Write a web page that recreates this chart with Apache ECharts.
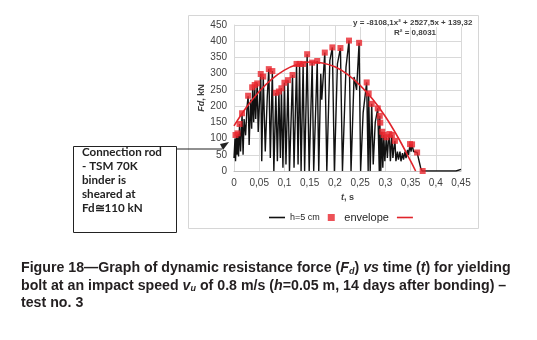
<!DOCTYPE html>
<html>
<head>
<meta charset="utf-8">
<script src="https://cdn.jsdelivr.net/npm/echarts@6/dist/echarts.min.js"></script>
<style>
  html,body{margin:0;padding:0;background:#fff;}
  #chart{width:537px;height:340px;}
</style>
</head>
<body>
<div id="chart"></div>
<script>
// measured signal h=5 cm : [t (s), Fd (kN)]
const hSignal = [
  [0,40],[0.002,100],[0.003,30],[0.005,110],[0.006,50],[0.008,115],[0.009,45],[0.011,145],
  [0.013,60],[0.016,175],[0.018,50],[0.02,160],[0.023,110],[0.026,200],[0.028,230],[0.03,80],
  [0.033,220],[0.035,130],[0.037,255],[0.039,150],[0.041,265],[0.043,160],[0.046,270],[0.048,120],
  [0.053,300],[0.055,30],[0.058,290],[0.062,60],[0.066,230],[0.069,315],[0.072,40],[0.076,308],
  [0.079,0],[0.083,240],[0.086,30],[0.089,245],[0.092,40],[0.094,255],[0.097,10],[0.1,272],
  [0.103,20],[0.107,280],[0.11,0],[0.116,296],[0.119,10],[0.124,330],[0.127,20],[0.13,330],
  [0.133,0],[0.137,330],[0.14,0],[0.145,360],[0.149,0],[0.155,334],[0.158,0],[0.165,339],
  [0.168,0],[0.172,300],[0.174,220],[0.18,365],[0.184,0],[0.19,340],[0.195,381],[0.199,0],
  [0.205,330],[0.211,379],[0.215,0],[0.222,320],[0.228,402],[0.232,0],[0.238,290],[0.243,250],
  [0.248,395],[0.251,0],[0.256,180],[0.263,273],[0.266,0],[0.267,239],[0.27,0],[0.273,207],
  [0.276,20],[0.28,150],[0.285,193],[0.288,0],[0.289,170],[0.291,0],[0.293,121],[0.295,10],
  [0.297,111],[0.299,30],[0.302,104],[0.304,40],[0.306,90],[0.308,114],[0.31,30],[0.313,111],
  [0.315,40],[0.317,70],[0.319,93],[0.321,30],[0.324,60],[0.326,35],[0.329,60],[0.331,30],
  [0.334,55],[0.336,35],[0.339,60],[0.341,40],[0.344,65],[0.346,50],[0.349,83],[0.351,60],
  [0.353,82],[0.356,60],[0.363,57],[0.37,10],[0.373,0],[0.4,0],[0.44,0],[0.45,5]
];

// envelope points (peaks)
const envT = [0.003,0.007,0.011,0.016,0.028,0.036,0.041,0.046,0.053,0.058,0.069,0.076,0.083,0.089,0.094,
  0.1,0.107,0.116,0.124,0.13,0.137,0.145,0.155,0.165,0.18,0.195,0.211,0.228,0.248,0.263,0.267,0.273,
  0.285,0.289,0.29,0.294,0.297,0.302,0.308,0.313,0.319,0.349,0.353,0.363,0.374];
const envF = [111,116,145,178,232,258,265,270,299,291,314,308,241,245,255,
  272,280,296,330,330,330,360,334,339,365,381,379,402,395,273,239,207,
  193,170,149,121,111,104,114,111,93,83,82,57,0];

// polynomial trendline
const trendT = [0,0.025,0.05,0.075,0.1,0.125,0.15,0.175,0.2,0.225,0.25,0.275,0.3,0.325,0.35,0.36];
const trendF = [139,197,245,283,311,328,336,333,321,298,264,221,168,104,31,0];

const xMin = 0, xMax = 0.45, xStep = 0.05;
const yMin = 0, yMax = 450, yStep = 50;

const narrow = "'Liberation Sans Narrow','Liberation Sans',Arial,sans-serif";
const sans = "'Liberation Sans',Arial,sans-serif";

let chart = echarts.init(document.getElementById('chart'), null, {renderer:'canvas'});

let option = {
  backgroundColor:'#fff',
  animation:false,
  grid:{left:234, right:76, top:25, bottom:169},
  xAxis:{
    type:'value', min:xMin, max:xMax, interval:xStep,
    name:'{i|t}{n|, s}', nameLocation:'middle', nameGap:22,
    nameTextStyle:{rich:{
      i:{fontFamily:sans, fontStyle:'italic', fontWeight:'bold', fontSize:9, color:'#404040'},
      n:{fontFamily:sans, fontWeight:'bold', fontSize:9, color:'#404040'}
    }},
    axisLine:{lineStyle:{color:'#bfbfbf'}},
    axisTick:{show:false},
    splitLine:{lineStyle:{color:'#d9d9d9'}},
    axisLabel:{fontFamily:narrow, fontSize:10, color:'#404040', margin:7,
      formatter:(v)=>String(+v.toFixed(2)).replace('.',',')}
  },
  yAxis:{
    type:'value', min:yMin, max:yMax, interval:yStep,
    name:'{i|Fd}{n|, kN}', nameLocation:'middle', nameGap:24, nameRotate:90,
    nameTextStyle:{rich:{
      i:{fontFamily:sans, fontStyle:'italic', fontWeight:'bold', fontSize:9, color:'#404040'},
      n:{fontFamily:sans, fontWeight:'bold', fontSize:9, color:'#404040'}
    }},
    axisLine:{show:true, lineStyle:{color:'#d9d9d9'}},
    axisTick:{show:false},
    splitLine:{lineStyle:{color:'#d9d9d9'}},
    axisLabel:{fontFamily:narrow, fontSize:10, color:'#404040', margin:7}
  },
  legend:{
    left:264, top:207, itemWidth:16, itemHeight:7, itemGap:8,
    data:[
      {name:'h=5 cm', icon:'path://M0,0h30v3h-30z'},
      {name:'envelope', icon:'path://M0,0h10v10h-10z'},
      {name:'trend', icon:'path://M0,0h30v3h-30z'}
    ],
    formatter:(name)=>{
      if(name==='trend') return '';
      return name==='envelope' ? '{b|envelope}' : '{s|h=5 cm}';
    },
    textStyle:{rich:{
      s:{fontFamily:sans, fontSize:9, color:'#262626'},
      b:{fontFamily:sans, fontSize:11, color:'#262626'}
    }}
  },
  series:[
    {
      name:'h=5 cm', type:'line', showSymbol:false, symbol:'none',
      data:hSignal,
      lineStyle:{color:'#111', width:1.4},
      itemStyle:{color:'#111'},
      z:2
    },
    {
      name:'trend', type:'line', smooth:0.4, showSymbol:false, symbol:'none',
      data:trendT.map((t,i)=>[t,trendF[i]]),
      lineStyle:{color:'#e0242b', width:1.6},
      itemStyle:{color:'#e0242b'},
      z:3
    },
    {
      name:'envelope', type:'scatter', symbol:'rect', symbolSize:6,
      data:envT.map((t,i)=>[t,envF[i]]),
      itemStyle:{color:'#e8262d'},
      z:4
    }
  ],
  graphic:[
    // chart frame
    {type:'rect', shape:{x:188.5, y:15.5, width:290, height:213}, style:{fill:null, stroke:'#d6d6d6', lineWidth:1}, z:-1},
    // trendline equation
    {type:'text', left:352, top:19, z:10, style:{
      text:'y = -8108,1x² + 2527,5x + 139,32', font:'bold 8px '+narrow, fill:'#404040',
      backgroundColor:'#fff', padding:[0,1]}},
    {type:'text', left:394, top:29, z:10, style:{
      text:'R² = 0,8031', font:'bold 8px '+narrow, fill:'#404040'}},
    // callout box
    {type:'rect', shape:{x:73.5, y:146.5, width:103, height:86}, style:{fill:'#fff', stroke:'#222', lineWidth:1}},
    {type:'text', left:82, top:145, style:{
      text:'Connection rod\n- TSM 70K\nbinder is\nsheared at\nFd≅110 kN',
      font:'bold 11.6px Lato,"Open Sans",sans-serif', lineHeight:14, fill:'#222'}},
    // arrow
    {type:'bezierCurve', shape:{x1:177, y1:149, x2:222, y2:149, cpx1:205, cpy1:149, cpx2:216, cpy2:149},
      style:{stroke:'#222', lineWidth:1.2, fill:null}},
    {type:'polygon', shape:{points:[[229,142],[220,144],[223,150]]}, style:{fill:'#222'}},
    // caption
    {type:'text', left:21, top:261, style:{
      text:'{b|Figure 18—Graph of dynamic resistance force (}{i|F}{s|d}{b|) }{i|vs}{b| time (}{i|t}{b|) for yielding}\n' +
           '{b|bolt at an impact speed }{i|v}{s|u}{b| of 0.8 m/s (}{i|h}{b|=0.05 m, 14 days after bonding) –}\n' +
           '{b|test no. 3}',
      rich:{
        b:{font:'bold 14.2px '+sans, fill:'#231f20', lineHeight:17.5},
        i:{font:'italic bold 14.2px '+sans, fill:'#231f20', lineHeight:17.5},
        s:{font:'italic bold 9px '+sans, fill:'#231f20', lineHeight:17.5, padding:[6,0,0,0]}
      }}}
  ]
};

chart.setOption(option);
</script>
</body>
</html>
